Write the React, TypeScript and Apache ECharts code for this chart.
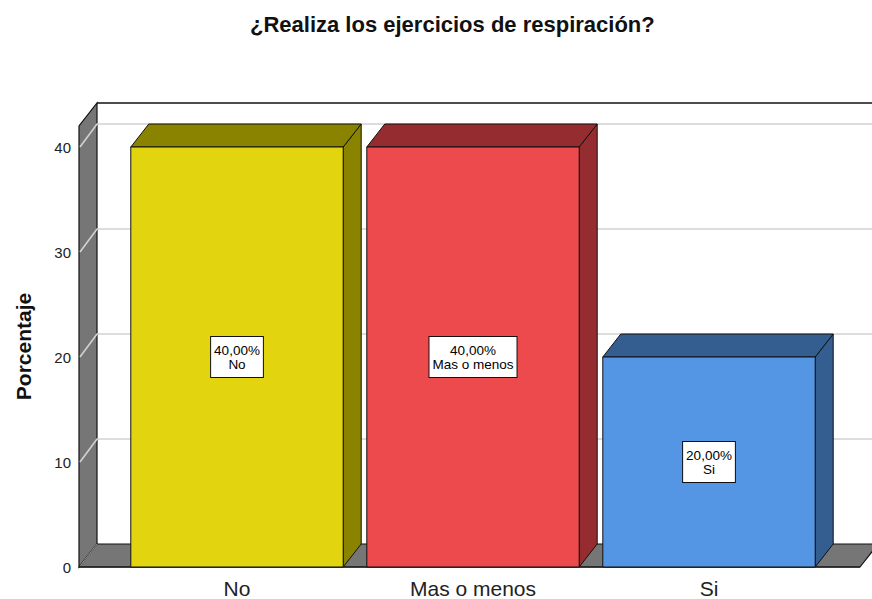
import React, { useEffect, useRef } from 'react';
import * as echarts from 'echarts';

const categories = ['No', 'Mas o menos', 'Si'];
const percentages = [40, 40, 20];
const yTicks = [0, 10, 20, 30, 40];
const yMax = 42;
const frontColors = ['#e2d50f', '#ec4a4d', '#5596e4'];
const darkColors = ['#8a8300', '#952d30', '#345e8f'];
const titleText = '¿Realiza los ejercicios de respiración?';
const yName = 'Porcentaje';

const FONT = "'Liberation Sans', Arial, sans-serif";
const DX = 18;
const DY = -23;
const WALL_GRAY = '#767676';
const GRID_GRAY = '#d2d2d2';

function wallsRender(params: any, api: any) {
  const cs = params.coordSys;
  const y0 = api.coord([0, 0])[1];
  const yTop = cs.y;
  const xL = cs.x - 40;
  const xR = cs.x + cs.width + 33;
  const children: any[] = [];
  children.push({
    type: 'rect',
    shape: { x: xL + DX, y: yTop + DY, width: xR - xL + 60, height: y0 - yTop },
    style: { fill: '#ffffff' },
  });
  children.push({
    type: 'polygon',
    shape: { points: [[xL, y0], [xL, yTop], [xL + DX, yTop + DY], [xL + DX, y0 + DY]] },
    style: { fill: WALL_GRAY, stroke: '#111', lineWidth: 1.2 },
  });
  children.push({
    type: 'polygon',
    shape: { points: [[xL, y0], [xL + DX, y0 + DY], [xR + DX, y0 + DY], [xR, y0]] },
    style: { fill: WALL_GRAY, stroke: '#111', lineWidth: 1.2 },
  });
  yTicks.forEach((t) => {
    const yv = api.coord([0, t])[1];
    if (t === 0) {
      children.push({
        type: 'line',
        shape: { x1: xL + 1, y1: yv - 1, x2: xL + DX, y2: yv + DY },
        style: { stroke: '#9a9a9a', lineWidth: 1 },
      });
    } else {
      children.push({
        type: 'polyline',
        shape: { points: [[xL + 1, yv], [xL + DX, yv + DY], [xR + DX + 60, yv + DY]] },
        style: { stroke: GRID_GRAY, lineWidth: 1.6, fill: 'none' },
      });
    }
  });
  children.push({
    type: 'line',
    shape: { x1: xL + DX, y1: yTop + DY, x2: xR + DX + 60, y2: yTop + DY },
    style: { stroke: '#111', lineWidth: 1.5 },
  });
  children.push({
    type: 'line',
    shape: { x1: xL, y1: y0, x2: xR, y2: y0 },
    style: { stroke: '#222', lineWidth: 1.6 },
  });
  return { type: 'group', children };
}

function barRender(params: any, api: any) {
  const idx = api.value(0);
  const v = api.value(1);
  const top = api.coord([idx, v]);
  const cx = top[0];
  const yTop = top[1];
  const y0 = api.coord([idx, 0])[1];
  const bw = api.size([1, 0])[0] * 0.9;
  const x0 = cx - bw / 2;
  const x1 = cx + bw / 2;
  const stroke = { stroke: '#111', lineWidth: 1 };
  const label = v.toFixed(2).replace('.', ',') + '%\n' + categories[idx];
  return {
    type: 'group',
    children: [
      {
        type: 'polygon',
        shape: { points: [[x1, yTop], [x1 + DX, yTop + DY], [x1 + DX, y0 + DY], [x1, y0]] },
        style: { fill: darkColors[idx], ...stroke },
      },
      {
        type: 'polygon',
        shape: { points: [[x0, yTop], [x0 + DX, yTop + DY], [x1 + DX, yTop + DY], [x1, yTop]] },
        style: { fill: darkColors[idx], ...stroke },
      },
      {
        type: 'rect',
        shape: { x: x0, y: yTop, width: bw, height: y0 - yTop },
        style: { fill: frontColors[idx], ...stroke },
      },
      {
        type: 'text',
        x: cx,
        y: (yTop + y0) / 2,
        style: {
          text: label,
          fill: '#000',
          fontSize: 13.5,
          fontFamily: FONT,
          lineHeight: 14,
          align: 'center',
          verticalAlign: 'middle',
          backgroundColor: '#ffffff',
          borderColor: '#111',
          borderWidth: 1,
          padding: [6, 3, 6, 3],
        },
      },
    ],
  };
}

export default function App() {
  const ref = useRef<HTMLDivElement>(null);
  useEffect(() => {
    const chart = echarts.init(ref.current!, null, { renderer: 'svg' });
    chart.setOption({
      animation: false,
      backgroundColor: '#ffffff',
      title: {
        text: titleText,
        left: 245,
        top: 8,
        textStyle: { fontSize: 22, fontWeight: 'bold', color: '#111', fontFamily: FONT },
      },
      grid: { left: 119, right: 45, top: 126, bottom: 32 },
      xAxis: {
        type: 'category',
        data: categories,
        axisLine: { show: false },
        axisTick: { show: false },
        splitLine: { show: false },
        axisLabel: { fontSize: 21, color: '#222', fontFamily: FONT, margin: 11 },
      },
      yAxis: {
        type: 'value',
        min: 0,
        max: yMax,
        interval: 10,
        offset: 40,
        name: yName,
        nameLocation: 'middle',
        nameGap: 45,
        nameTextStyle: { fontSize: 21, fontWeight: 'bold', color: '#111', fontFamily: FONT },
        axisLine: { show: false },
        axisTick: { show: false },
        splitLine: { show: false },
        axisLabel: {
          fontSize: 15,
          color: '#222',
          fontFamily: FONT,
          margin: 8,
          formatter: (val: number) => (yTicks.includes(val) ? String(val) : ''),
        },
      },
      series: [
        { type: 'custom', data: [[0, 0]], renderItem: wallsRender, silent: true, z: 1, clip: false },
        {
          type: 'custom',
          data: percentages.map((v, i) => [i, v]),
          encode: { x: 0, y: 1 },
          renderItem: barRender,
          z: 2,
          clip: false,
        },
      ],
    });
    return () => chart.dispose();
  }, []);
  return (
    <div
      ref={ref}
      style={{ position: 'absolute', left: 0, top: 0, width: 872, height: 599 }}
    />
  );
}
